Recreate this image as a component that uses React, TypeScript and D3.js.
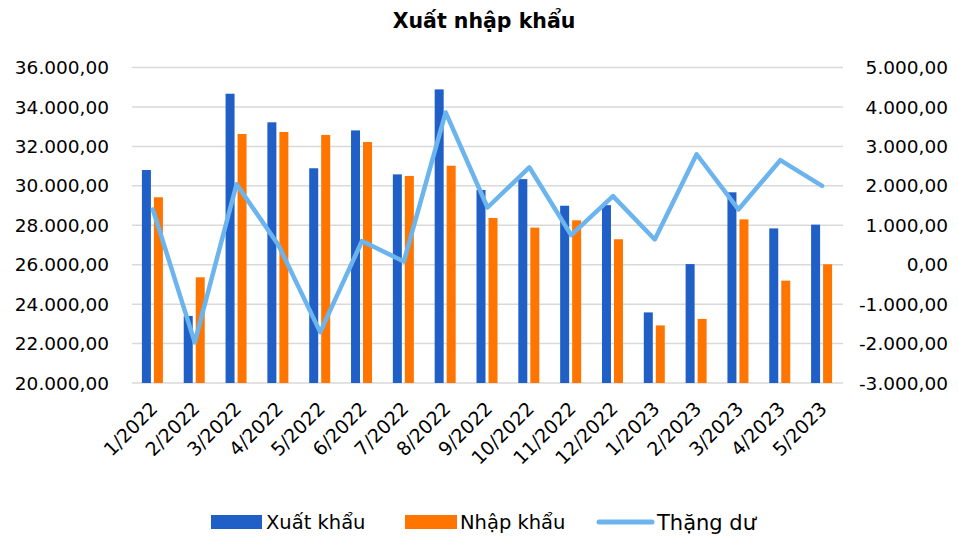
import * as d3 from "d3";

const months = [
  "1/2022", "2/2022", "3/2022", "4/2022", "5/2022", "6/2022", "7/2022", "8/2022",
  "9/2022", "10/2022", "11/2022", "12/2022", "1/2023", "2/2023", "3/2023", "4/2023", "5/2023",
];
const exports_ = [30800, 23400, 34670, 33220, 30890, 32810, 30580, 34890, 29790, 30340, 28990, 29020, 23580, 26030, 29670, 27840, 28030];
const imports_ = [29420, 25360, 32630, 32730, 32580, 32220, 30500, 31020, 28370, 27880, 28250, 27290, 22920, 23250, 28300, 25190, 26020];
const surplus = [1400, -1970, 2040, 500, -1710, 600, 80, 3860, 1450, 2470, 750, 1740, 640, 2800, 1400, 2650, 2000];

const leftTicks = [20000, 22000, 24000, 26000, 28000, 30000, 32000, 34000, 36000];
const rightTicks = [-3000, -2000, -1000, 0, 1000, 2000, 3000, 4000, 5000];

const BLUE = "#1f5fc6";
const ORANGE = "#ff7500";
const LINE = "#6cb4ee";
const GRID = "#d9d9d9";
const FONT = "'DejaVu Sans', sans-serif";

// 36.000,00 style
const fmt = (v: number) => {
  const s = d3.format(",.2f")(v);
  return s.replace(/,/g, "#").replace(".", ",").replace(/#/g, ".").replace("−", "-");
};

export default function App() {
  const W = 958, H = 536;
  const x = d3.scaleBand<string>().domain(months).range([132, 843]).padding(0);
  const yL = d3.scaleLinear().domain([20000, 36000]).range([383, 67.5]);
  const yR = d3.scaleLinear().domain([-3000, 5000]).range([383, 67.5]);
  const bw = 9;

  const line = d3
    .line<number>()
    .x((_, i) => x(months[i])! + x.bandwidth() / 2)
    .y((d) => yR(d));

  return (
    <svg width={W} height={H} style={{ position: "absolute", left: 0, top: 0, background: "#fff" }} fontFamily={FONT}>
      <text x={484} y={28} textAnchor="middle" fontSize={20.5} fontWeight="bold" fill="#000">
        Xuất nhập khẩu
      </text>

      {leftTicks.map((t) => (
        <g key={t}>
          <line x1={132} x2={843} y1={yL(t)} y2={yL(t)} stroke={GRID} strokeWidth={1.5} />
          <text x={109} y={yL(t)} dy="0.36em" textAnchor="end" fontSize={18.5} fill="#000">
            {fmt(t)}
          </text>
        </g>
      ))}
      {rightTicks.map((t) => (
        <text key={t} x={948} y={yR(t)} dy="0.36em" textAnchor="end" fontSize={18.5} fill="#000">
          {fmt(t)}
        </text>
      ))}

      {months.map((m, i) => {
        const cx = x(m)! + x.bandwidth() / 2;
        return (
          <g key={m}>
            <rect x={cx - 11} y={yL(exports_[i])} width={bw} height={yL(20000) - yL(exports_[i])} fill={BLUE} />
            <rect x={cx + 1} y={yL(imports_[i])} width={bw} height={yL(20000) - yL(imports_[i])} fill={ORANGE} />
            <text
              transform={`translate(${cx + 6},${410}) rotate(-45)`}
              textAnchor="end"
              fontSize={19}
              fill="#000"
            >
              {m}
            </text>
          </g>
        );
      })}

      <path d={line(surplus) || ""} fill="none" stroke={LINE} strokeWidth={4.5} strokeLinejoin="round" strokeLinecap="round" />

      <g>
        <rect x={211} y={515} width={51} height={14} fill={BLUE} />
        <text x={266} y={522} dy="0.36em" fontSize={19.5} fill="#000">Xuất khẩu</text>
        <rect x={405} y={515} width={52} height={14} fill={ORANGE} />
        <text x={460} y={522} dy="0.36em" fontSize={19.5} fill="#000">Nhập khẩu</text>
        <line x1={599} x2={652} y1={522} y2={522} stroke={LINE} strokeWidth={5} strokeLinecap="round" />
        <text x={657} y={522} dy="0.36em" fontSize={21} fill="#000">Thặng dư</text>
      </g>
    </svg>
  );
}
